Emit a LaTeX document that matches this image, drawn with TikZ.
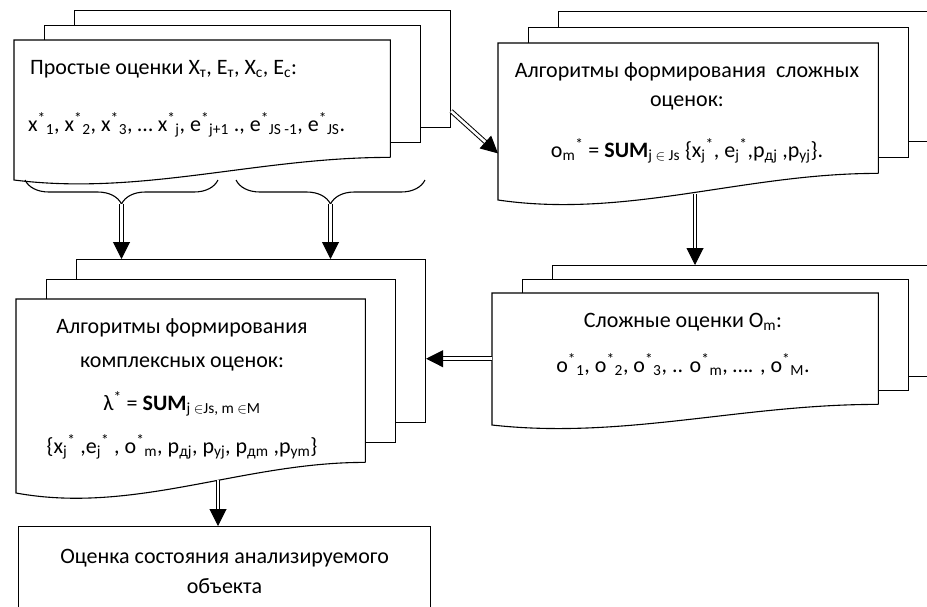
\documentclass[tikz,border=0pt]{standalone}
\usepackage{fontspec}
\setmainfont{Carlito}
\usetikzlibrary{arrows.meta, decorations.pathreplacing}
\tikzset{pagebox/.style = {draw, fill = white, rectangle, inner sep = 0pt, anchor = north west, line width = 1.1pt}}
\tikzset{frontbox/.style = {rectangle, inner sep = 0pt, anchor = north west}}
\tikzset{pageline/.style = {draw, fill = white, line width = 1.1pt}}
\tikzset{txt/.style = {inner sep = 0pt, font = \fontsize{22}{29}\selectfont}}
\tikzset{statebox/.style = {draw, line width = 1.1pt, anchor = north west, align = center, minimum width = 412pt, minimum height = 90pt, font = \fontsize{22}{30}\selectfont}}
\tikzset{flow/.style = {double = white, double distance = 2.6pt, line width = 1pt, -{Triangle[length = 17pt, width = 17pt]}}}
\tikzset{curly/.style = {decorate, decoration = {brace, mirror, amplitude = 24pt}, line width = 1.1pt}}

% name, left, top, right, bottom left, bottom right, shift
\newcommand{\docstack}[7]{%
	\node[pagebox, minimum width = {#4-#2}, minimum height = {#6-#3}] (#1-back) at (#2+60, #3-2*#7) {};
	\node[pagebox, minimum width = {#4-#2}, minimum height = {#6-#3}] (#1-mid) at (#2+30, #3-#7) {};
	\node[frontbox, minimum width = {#4-#2}, minimum height = {#6-#3}] (#1) at (#2, #3) {};
	\draw[pageline] (#1.south east) -- (#1.north east) -- (#1.north west) -- (#2, #5)
		.. controls ({#2+0.34*(#4-#2)}, {#5+0.7*(#5-#6)}) and ({#2+0.65*(#4-#2)}, #6) .. (#1.south east);
}
\newcommand{\starsub}[2]{#1\textsuperscript{*}\textsubscript{#2}}
\newcommand{\substar}[2]{#1\textsubscript{#2}\textsuperscript{*}}

\begin{document}
\begin{tikzpicture}[x = 1pt, y = -1pt]
	\useasboundingbox (0, 0) rectangle (927, 606);
	\clip (0, 0) rectangle (927, 606);

	% document stacks
	\docstack{simple}{14}{40}{390}{180}{157}{15}
	\docstack{algo}{498}{43}{878}{200}{173}{16}
	\docstack{cmpl}{492}{293}{878}{425}{404}{14}
	\docstack{cplx}{16}{299}{365}{493}{462}{20}

	\node[statebox] (state) at (18, 526) {Оценка состояния анализируемого\\объекта};

	% texts
	\node[txt, anchor = base west] (simple-1) at (30, 74) {Простые оценки X\textsubscript{т}, E\textsubscript{т}, X\textsubscript{с}, E\textsubscript{с}:};
	\node[txt, anchor = base west] (simple-2) at (28, 131) {\starsub{x}{1}, \starsub{x}{2}, \starsub{x}{3}, … \starsub{x}{j}, \starsub{e}{j+1} ., \starsub{e}{JS -1}, \starsub{e}{JS}.};

	\node[txt, anchor = base] (algo-1) at (687, 77) {Алгоритмы формирования\ \ сложных};
	\node[txt, anchor = base] (algo-2) at (687, 106) {оценок:};
	\node[txt, anchor = base] (algo-3) at (687, 157) {\substar{o}{m} = \textbf{SUM}\textsubscript{j $\in$ Js} \{\substar{x}{j}, \substar{e}{j},p\textsubscript{дj} ,p\textsubscript{уj}\}.};

	\node[txt, anchor = base] (cmpl-1) at (683, 327) {Сложные оценки O\textsubscript{m}:};
	\node[txt, anchor = base] (cmpl-2) at (683, 372) {\starsub{o}{1}, \starsub{o}{2}, \starsub{o}{3}, .. \starsub{o}{m}, …. , \starsub{o}{M}.};

	\node[txt, anchor = base] (cplx-1) at (182, 333) {Алгоритмы формирования};
	\node[txt, anchor = base] (cplx-2) at (182, 367) {комплексных оценок:};
	\node[txt, anchor = base] (cplx-3) at (182, 410) {λ\textsuperscript{*} = \textbf{SUM}\textsubscript{j $\in$Js, m $\in$M}};
	\node[txt, anchor = base] (cplx-4) at (182, 453) {\{\substar{x}{j} ,\substar{e}{j} , \starsub{o}{m}, p\textsubscript{дj}, p\textsubscript{уj}, p\textsubscript{дm} ,p\textsubscript{уm}\}};

	% braces
	\draw[curly] (25, 180) -- (218, 180);
	\draw[curly] (236, 180) -- (425, 180);
	\coordinate (brace-l) at (121.5, 204);
	\coordinate (brace-r) at (330.5, 204);

	% connectors
	\coordinate (simple-out) at ([yshift = 17pt]simple-back.south east);
	\coordinate (algo-in) at ([yshift = 20pt]algo.south west);
	\coordinate (algo-out) at (695, 194);
	\coordinate (cmpl-out) at ([yshift = -10pt]cmpl.west);
	\coordinate (cplx-out) at (218, 480);

	\draw[flow] (brace-l) -- (brace-l |- cplx-back.north);
	\draw[flow] (brace-r) -- (brace-r |- cplx-back.north);
	\draw[flow] (simple-out) -- (algo-in);
	\draw[flow] (algo-out) -- (algo-out |- cmpl-back.north);
	\draw[flow] (cmpl-out) -- (cmpl-out -| cplx-back.east);
	\draw[flow] (cplx-out) -- (cplx-out |- state.north);
\end{tikzpicture}
\end{document}
